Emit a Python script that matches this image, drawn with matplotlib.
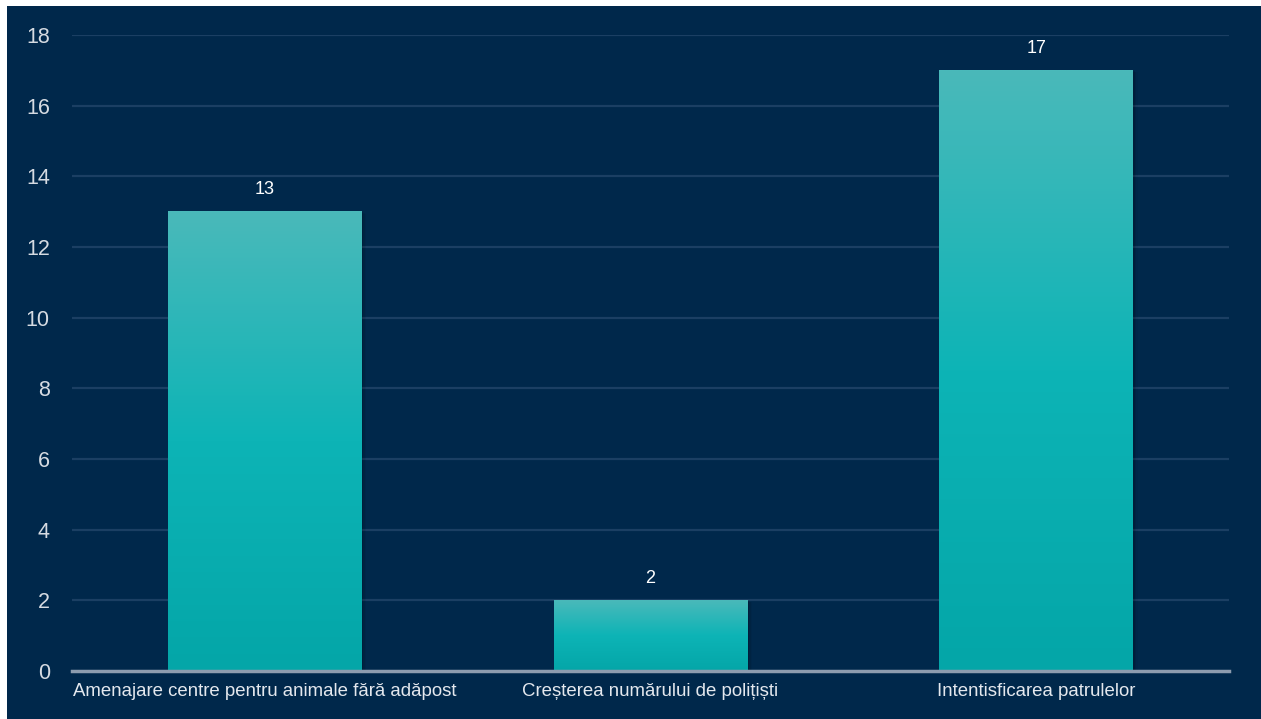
import matplotlib
matplotlib.use("Agg")
import matplotlib.pyplot as plt
import numpy as np
from matplotlib.colors import LinearSegmentedColormap
from matplotlib.patches import Rectangle

plt.rcParams['font.family'] = ['Liberation Sans', 'DejaVu Sans']

categories = ['Amenajare centre pentru animale fără adăpost',
              'Creșterea numărului de polițiști',
              'Intentisficarea patrulelor']
values = [13, 2, 17]
yticks = [0, 2, 4, 6, 8, 10, 12, 14, 16, 18]

bg = '#00284b'
cmap = LinearSegmentedColormap.from_list('bar', ['#04a6a8', '#0db4b6', '#4ab9ba'])

W, H = 1261, 719
fig = plt.figure(figsize=(W / 100, H / 100), dpi=100, facecolor='white')
# dark panel behind the chart (white strip at top and left)
bgax = fig.add_axes([7 / W, 0, 1 - 7 / W, 1 - 6 / H], zorder=0)
bgax.set_facecolor(bg)
bgax.set_axis_off()
bgax.add_patch(Rectangle((0, 0), 1, 1, transform=bgax.transAxes, facecolor=bg, edgecolor='none'))

ax = fig.add_axes([72 / W, 48 / H, (1229 - 72) / W, (671 - 35) / H], zorder=1)
ax.patch.set_alpha(0)

x = np.arange(len(categories))
bw = 0.503
bars = ax.bar(x, values, width=bw, color='none', zorder=3)
grad = np.linspace(0, 1, 256).reshape(-1, 1)
for b in bars:
    x0, y0 = b.get_x(), b.get_y()
    w, h = b.get_width(), b.get_height()
    # soft shadow
    for i, a in enumerate([0.10, 0.07, 0.04]):
        d = 0.004 * (i + 1)
        ax.add_patch(Rectangle((x0 + d, y0 - 0.02 * (i + 1)), w, h, facecolor='black',
                               alpha=a, edgecolor='none', zorder=2))
    ax.imshow(grad, extent=[x0, x0 + w, y0, y0 + h], origin='lower', cmap=cmap,
              aspect='auto', zorder=3)
    ax.annotate(str(int(h)), (x0 + w / 2, y0 + h), xytext=(0, 9.5), textcoords='offset points',
                ha='center', va='bottom', color='white', fontsize=13)

ax.set_xlim(-0.5, 2.5)
ax.set_ylim(0, 18)
ax.set_yticks(yticks)
ax.set_xticks(x)
ax.set_xticklabels(categories)
ax.tick_params(axis='y', length=0, pad=16, labelsize=15.5, labelcolor='#d6dbe2')
ax.tick_params(axis='x', length=0, pad=9, labelsize=13.4, labelcolor='#e4e8ee')
ax.grid(axis='y', color='#1b3f63', linewidth=1.6, zorder=1)
ax.set_axisbelow(True)
for s in ['top', 'right', 'left']:
    ax.spines[s].set_visible(False)
ax.spines['bottom'].set_color('#8d9cae')
ax.spines['bottom'].set_linewidth(2.5)
ax.spines['bottom'].set_zorder(4)

fig.savefig('out.png', dpi=100, facecolor='white')
